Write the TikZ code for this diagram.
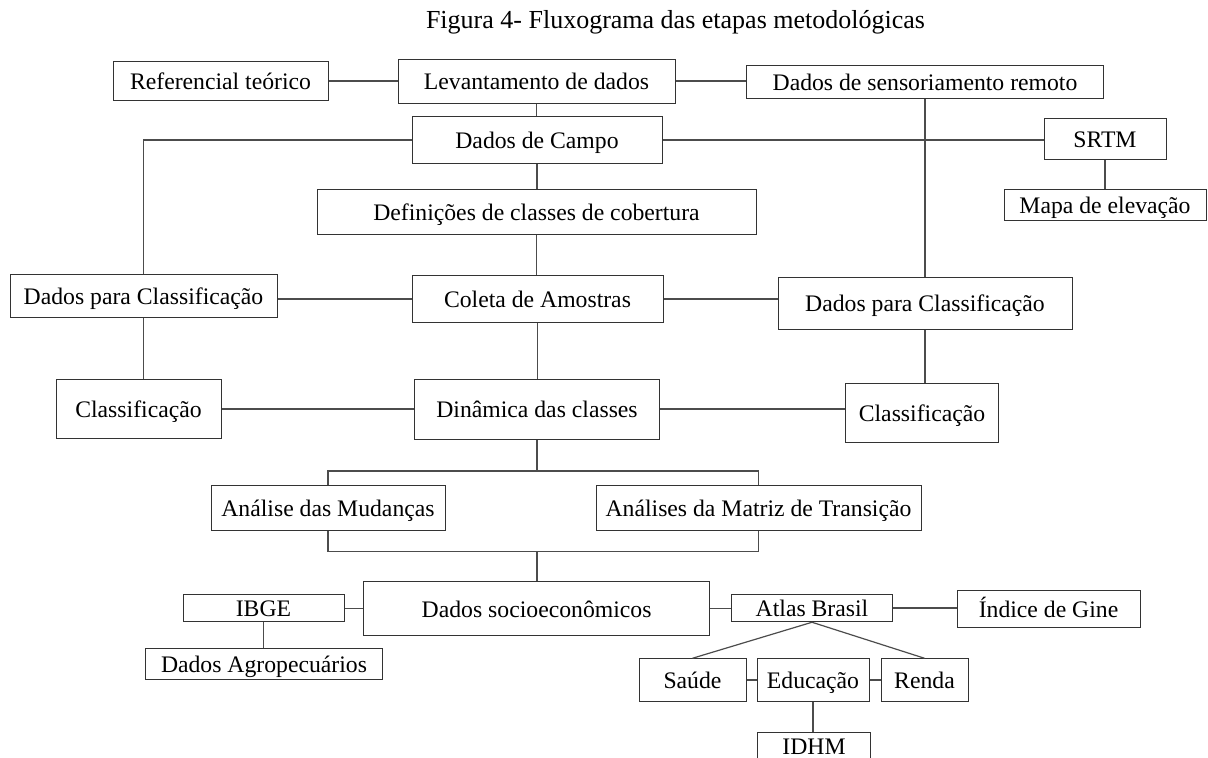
\documentclass[tikz,border=0pt]{standalone}
\usepackage{fontspec}
\setmainfont{Liberation Serif}
\usepackage{xcolor}
\usepackage{tikz}

\begin{document}
\begin{tikzpicture}[
    x=1pt, y=-1pt,
    caixa/.style={
        % The shape:
        rectangle,
        inner sep=0pt,
        draw=black!80,
        line width=1pt,
        % The fonts
        font=\fontsize{23.7}{28}\selectfont,
        text height=22.3pt,
        text depth=4.7pt},
    liga/.style={draw=black!70, line width=1.2pt}
  ]
  \useasboundingbox (0,0) rectangle (1208,758);
  \clip (0,0) rectangle (1208,758);
  \node (titulo) [font=\fontsize{26}{30}\selectfont, anchor=base] at (675.5,28) {Figura 4- Fluxograma das etapas metodológicas};
  \node (referencial) [caixa, minimum width=215, minimum height=38.5] at (220.5,81) {Referencial teórico};
  \node (levantamento) [caixa, minimum width=277, minimum height=44] at (536.5,81) {Levantamento de dados};
  \node (sensoriamento) [caixa, minimum width=357.5, minimum height=33] at (925,82) {Dados de sensoriamento remoto};
  \node (campo) [caixa, minimum width=250, minimum height=47.5] at (537,140) {Dados de Campo};
  \node (srtm) [caixa, minimum width=122, minimum height=41.5] at (1105,139) {SRTM};
  \node (elevacao) [caixa, minimum width=202, minimum height=31.5] at (1105,205) {Mapa de elevação};
  \node (definicoes) [caixa, minimum width=439, minimum height=45.5] at (536.5,212) {Definições de classes de cobertura};
  \node (dadosE) [caixa, minimum width=267, minimum height=43] at (143.5,296) {Dados para Classificação};
  \node (coleta) [caixa, minimum width=251, minimum height=47.5] at (537.5,299) {Coleta de Amostras};
  \node (dadosD) [caixa, minimum width=294, minimum height=52] at (925,303) {Dados para Classificação};
  \node (classifE) [caixa, minimum width=165, minimum height=59] at (138.5,408.5) {Classificação};
  \node (dinamica) [caixa, minimum width=245.5, minimum height=60] at (537,409) {Dinâmica das classes};
  \node (classifD) [caixa, minimum width=153.5, minimum height=59] at (922,412.5) {Classificação};
  \node (mudancas) [caixa, minimum width=234, minimum height=45] at (328,507.5) {Análise das Mudanças};
  \node (matriz) [caixa, minimum width=325, minimum height=45] at (758.5,507.5) {Análises da Matriz de Transição};
  \node (socio) [caixa, minimum width=346, minimum height=54] at (536.6,608.5) {Dados socioeconômicos};
  \node (ibge) [caixa, minimum width=161, minimum height=27.5] at (263.5,608) {IBGE};
  \node (agro) [caixa, minimum width=237, minimum height=30.5] at (264,664) {Dados Agropecuários};
  \node (atlas) [caixa, minimum width=161, minimum height=27.5] at (812,608) {Atlas Brasil};
  \node (gine) [caixa, minimum width=183, minimum height=37] at (1048.5,608.5) {Índice de Gine};
  \node (saude) [caixa, minimum width=107, minimum height=42.5] at (692.5,680) {Saúde};
  \node (educacao) [caixa, minimum width=112, minimum height=42.5] at (813,680) {Educação};
  \node (renda) [caixa, minimum width=87, minimum height=42.5] at (924.5,680) {Renda};
  \node (idhm) [caixa, minimum width=113, minimum height=30, text height=15.6pt, text depth=0pt] at (814,747) {IDHM};
  % pontos de ramificação
  \coordinate (ramo) at (537,471);
  \coordinate (uniao) at (537,551.5);
  % ligações
  \draw [liga] (referencial.east) -- (levantamento.west);
  \draw [liga] (levantamento.east) -- (levantamento.east -| sensoriamento.west);
  \draw [liga] (levantamento.south) -- (levantamento.south |- campo.north);
  \draw [liga] (campo.west) -| (dadosE.north);
  \draw [liga] (campo.east) -- (campo.east -| srtm.west);
  \draw [liga] (sensoriamento.south) -- (dadosD.north);
  \draw [liga] (srtm.south) -- (elevacao.north);
  \draw [liga] (campo.south) -- (campo.south |- definicoes.north);
  \draw [liga] (definicoes.south) -- (definicoes.south |- coleta.north);
  \draw [liga] (coleta.west) -- (coleta.west -| dadosE.east);
  \draw [liga] (coleta.east) -- (coleta.east -| dadosD.west);
  \draw [liga] (dadosE.south) -- (dadosE.south |- classifE.north);
  \draw [liga] (dadosD.south) -- (dadosD.south |- classifD.north);
  \draw [liga] (coleta.south) -- (coleta.south |- dinamica.north);
  \draw [liga] (dinamica.west) -- (dinamica.west -| classifE.east);
  \draw [liga] (dinamica.east) -- (dinamica.east -| classifD.west);
  \draw [liga] (dinamica.south) -- (ramo);
  \draw [liga] (mudancas.north) |- (ramo) -| (matriz.north);
  \draw [liga] (mudancas.south) |- (uniao) -| (matriz.south);
  \draw [liga] (uniao) -- (uniao |- socio.north);
  \draw [liga] (socio.west) -- (socio.west -| ibge.east);
  \draw [liga] (socio.east) -- (socio.east -| atlas.west);
  \draw [liga] (atlas.east) -- (atlas.east -| gine.west);
  \draw [liga] (ibge.south) -- (ibge.south |- agro.north);
  \draw [liga] (atlas.south) -- (saude.north);
  \draw [liga] (atlas.south) -- (renda.north);
  \draw [liga] (saude.east) -- (educacao.west);
  \draw [liga] (educacao.east) -- (renda.west);
  \draw [liga] (educacao.south) -- (educacao.south |- idhm.north);
\end{tikzpicture}
\end{document}
